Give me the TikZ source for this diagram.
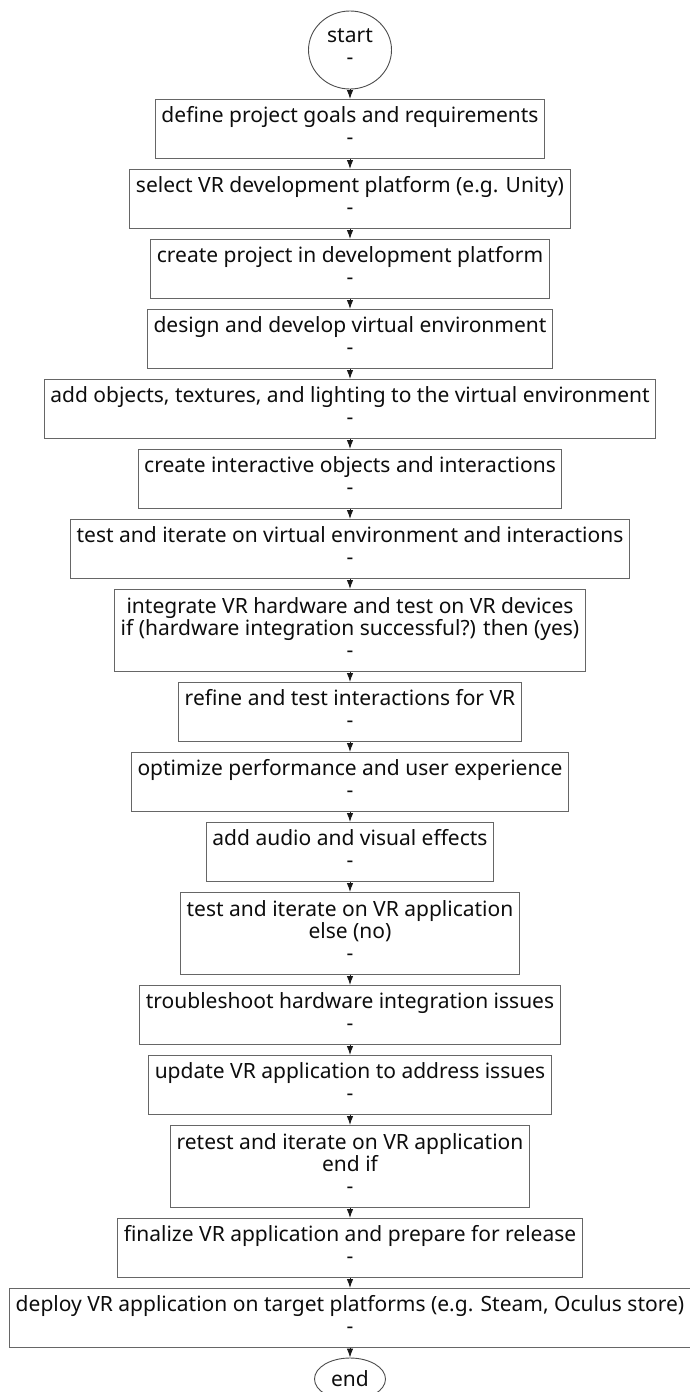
\documentclass[tikz,border=0pt]{standalone}
\usepackage{fontspec}
\setmainfont{Noto Sans}
\usetikzlibrary{shapes.geometric,arrows.meta}
\begin{document}
\begin{tikzpicture}[x=1pt,y=-1pt,
  every node/.style={font=\fontsize{21}{22}\selectfont,text=black!95,align=center},
  stepbox/.style={draw=black!60,line width=0.9pt,anchor=north,minimum height=59pt,
    inner xsep=6pt,inner ysep=0pt,text depth=6.6pt},
  tallbox/.style={stepbox,minimum height=82pt},
  term/.style={ellipse,draw=black!70,line width=0.9pt,inner sep=0pt},
  flow/.style={-{Latex[length=9pt,width=6.5pt]},line width=0.9pt,black!90}]
\useasboundingbox (0,0) rectangle (689,1392);

% terminals
\node[term,minimum width=83pt,minimum height=78pt,text depth=6.6pt] (start) at (350,50) {start\\-};
\node[term,minimum width=71pt,minimum height=42pt] (finish) at (350,1379) {end};

% steps, top edges every 70pt (tall ones 82pt high)
\node[stepbox] (goals) at (350,99) {define project goals and requirements\\-};
\node[stepbox] (platform) at (350,169) {select VR development platform (e.g. Unity)\\-};
\node[stepbox] (project) at (350,239) {create project in development platform\\-};
\node[stepbox] (design) at (350,309) {design and develop virtual environment\\-};
\node[stepbox] (objects) at (350,379) {add objects, textures, and lighting to the virtual environment\\-};
\node[stepbox] (interact) at (350,449) {create interactive objects and interactions\\-};
\node[stepbox] (testenv) at (350,519) {test and iterate on virtual environment and interactions\\-};
\node[tallbox] (hardware) at (350,589) {integrate VR hardware and test on VR devices\\if (hardware integration successful?) then (yes)\\-};
\node[stepbox] (refine) at (350,682) {refine and test interactions for VR\\-};
\node[stepbox] (optimize) at (350,752) {optimize performance and user experience\\-};
\node[stepbox] (audio) at (350,822) {add audio and visual effects\\-};
\node[tallbox] (testapp) at (350,892) {test and iterate on VR application\\else (no)\\-};
\node[stepbox] (trouble) at (350,985) {troubleshoot hardware integration issues\\-};
\node[stepbox] (update) at (350,1055) {update VR application to address issues\\-};
\node[tallbox] (retest) at (350,1125) {retest and iterate on VR application\\end if\\-};
\node[stepbox] (finalize) at (350,1218) {finalize VR application and prepare for release\\-};
\node[stepbox] (deploy) at (350,1288) {deploy VR application on target platforms (e.g. Steam, Oculus store)\\-};

\foreach \a/\b in {start/goals,goals/platform,platform/project,project/design,design/objects,
  objects/interact,interact/testenv,testenv/hardware,hardware/refine,refine/optimize,
  optimize/audio,audio/testapp,testapp/trouble,trouble/update,update/retest,
  retest/finalize,finalize/deploy,deploy/finish}
  \draw[flow] (\a) -- (\b);
\end{tikzpicture}
\end{document}
